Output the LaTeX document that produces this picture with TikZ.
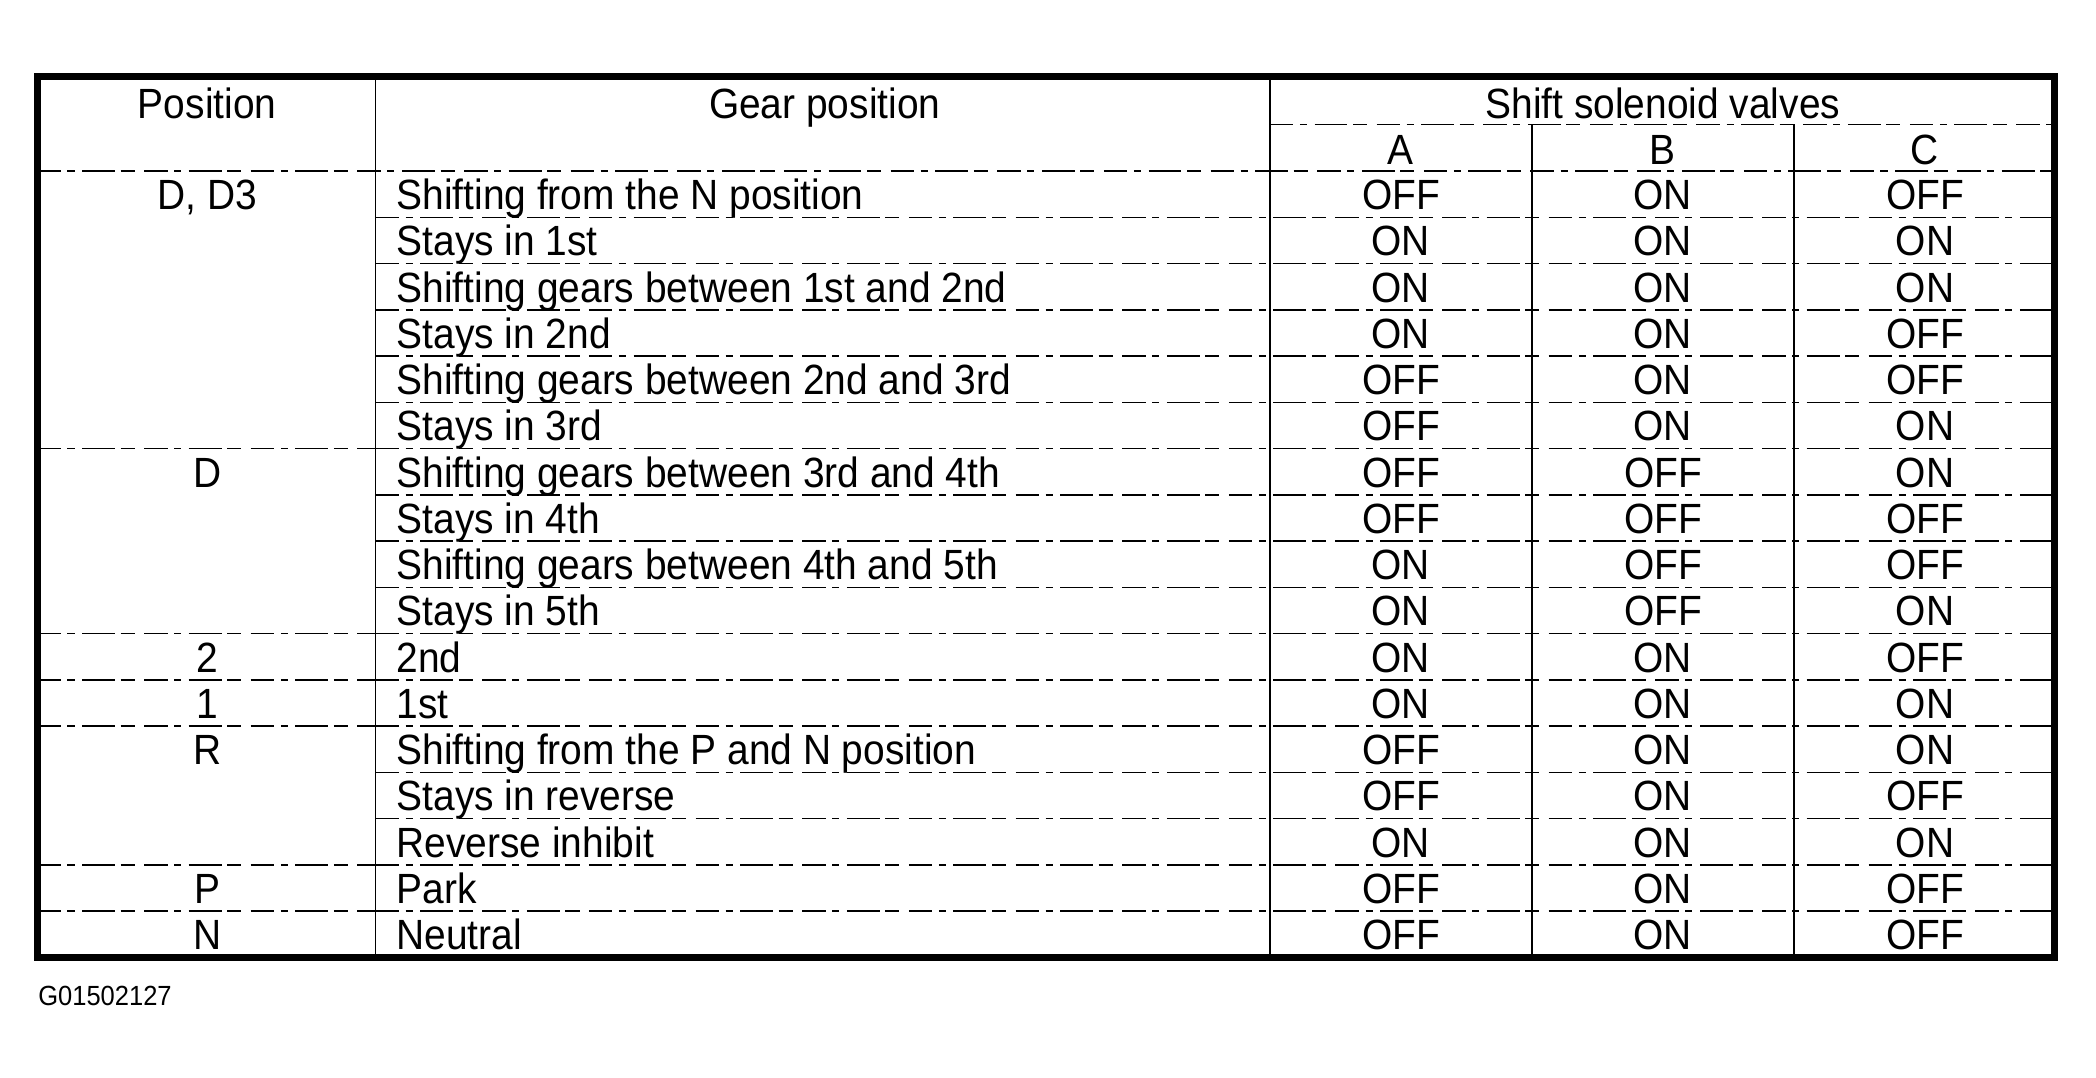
\documentclass[tikz,border=0pt]{standalone}
\usepackage{fontspec}
\setmainfont{Liberation Sans}[FakeStretch=0.92]
\usetikzlibrary{positioning}

\begin{document}
\begin{tikzpicture}[
    x=0.1mm, y=-0.1mm,
    cell/.style={inner sep=0pt, anchor=base, font=\fontsize{9}{10}\selectfont},
    gear/.style={cell, anchor=base west},
    code/.style={inner sep=0pt, anchor=base west, font=\fontsize{5.9}{7}\selectfont},
    rule/.style={line width=0.3pt, dash pattern=on 5pt off 1.4pt on 1.5pt off 1.6pt on 7pt off 1.2pt on 3pt off 2pt},
    divider/.style={line width=0.35pt},
    frame/.style={line width=1.5pt}
]
\useasboundingbox (0,0) rectangle (1568,806);

% Header
\node[cell] (hpos) at (155,89) {Position};
\node[cell] (hgear) at (617,89) {Gear position};
\node[cell] (hvalve) at (1244,89) {Shift solenoid valves};
\node[cell] (ha) at (1048,123) {A};
\node[cell] (hb) at (1244,123) {B};
\node[cell] (hc) at (1440,123) {C};

% Gear rows and valve states
\foreach \i/\gear/\a/\b/\c in {
    1/Shifting from the N position/OFF/ON/OFF,
    2/Stays in 1st/ON/ON/ON,
    3/Shifting gears between 1st and 2nd/ON/ON/ON,
    4/Stays in 2nd/ON/ON/OFF,
    5/Shifting gears between 2nd and 3rd/OFF/ON/OFF,
    6/Stays in 3rd/OFF/ON/ON,
    7/Shifting gears between 3rd and 4th/OFF/OFF/ON,
    8/Stays in 4th/OFF/OFF/OFF,
    9/Shifting gears between 4th and 5th/ON/OFF/OFF,
    10/Stays in 5th/ON/OFF/ON,
    11/2nd/ON/ON/OFF,
    12/1st/ON/ON/ON,
    13/Shifting from the P and N position/OFF/ON/ON,
    14/Stays in reverse/OFF/ON/OFF,
    15/Reverse inhibit/ON/ON/ON,
    16/Park/OFF/ON/OFF,
    17/Neutral/OFF/ON/OFF}{
    \pgfmathsetmacro\yb{128+34.6*(\i-0.5)+11.5}
    \node[gear] (g\i) at (296,\yb) {\gear};
    \node[cell] (a\i) at (1048,\yb) {\a};
    \node[cell] (b\i) at (1244,\yb) {\b};
    \node[cell] (c\i) at (1440,\yb) {\c};
}

% Selector positions
\foreach \i/\pos in {1/{D, D3}, 7/D, 11/2, 12/1, 13/R, 16/P, 17/N}{
    \pgfmathsetmacro\yb{128+34.6*(\i-0.5)+11.5}
    \node[cell] (p\i) at (155,\yb) {\pos};
}

% Row rules
\draw[rule] (28,128) -- (1537,128);
\draw[rule] (950,93) -- (1537,93);
\foreach \k in {1,...,16}
    \draw[rule] (281,128+34.6*\k) -- (1537,128+34.6*\k);
\foreach \k in {6,10,11,12,15,16}
    \draw[rule] (28,128+34.6*\k) -- (281,128+34.6*\k);

% Column dividers
\draw[divider] (281,57) -- (281,716);
\draw[divider] (950,57) -- (950,716);
\draw[divider] (1146,93) -- (1146,716);
\draw[divider] (1342,93) -- (1342,716);

% Outer frame
\draw[frame] (28,57) rectangle (1537,716);

\node[code] (fig) at (28,752) {G01502127};

\end{tikzpicture}
\end{document}
